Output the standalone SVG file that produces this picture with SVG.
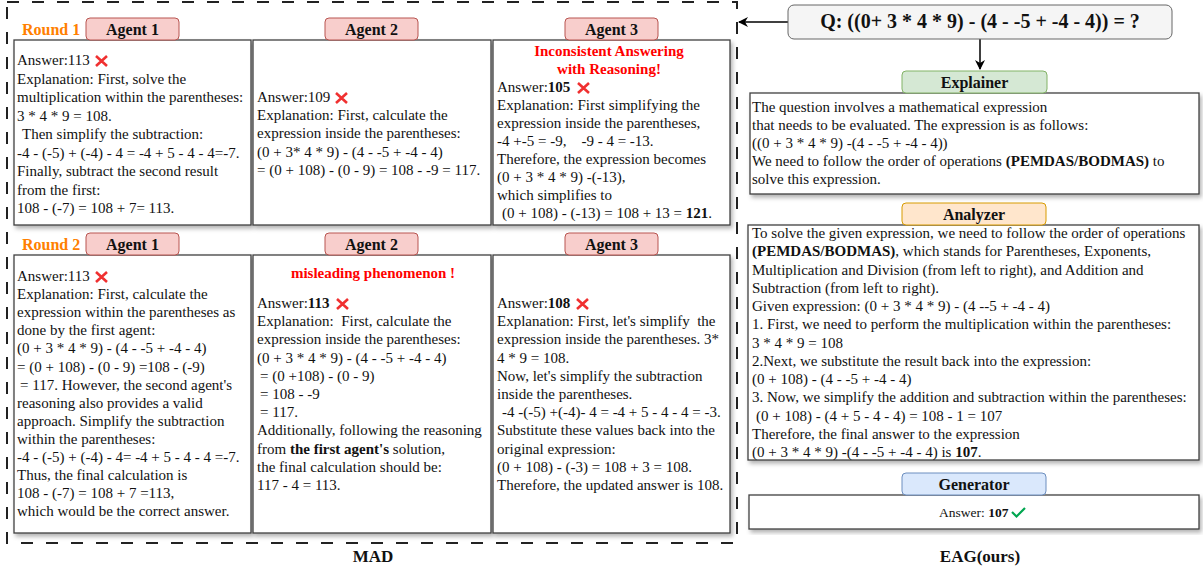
<svg xmlns="http://www.w3.org/2000/svg" width="1203" height="570" viewBox="0 0 1203 570">
<defs>
<filter id="sh" x="-5%" y="-5%" width="115%" height="120%">
<feDropShadow dx="2" dy="3" stdDeviation="2" flood-color="#000" flood-opacity="0.3"/>
</filter>
<marker id="ah" viewBox="0 0 10 10" refX="9" refY="5" markerWidth="10" markerHeight="10" markerUnits="userSpaceOnUse" orient="auto">
<path d="M0,0 L10,5 L0,10 L3,5 Z" fill="#000"/>
</marker>
<style>
text{font-family:"Liberation Serif","Times New Roman",serif;font-size:15px;fill:#111}
.b{font-weight:bold}
.box{fill:#fff;stroke:#404040;stroke-width:1.3;filter:url(#sh)}
.lbl{font-weight:bold;font-size:16px;text-anchor:middle}
.red{fill:#f00;font-weight:bold;text-anchor:middle}
.round{fill:#ff8000;font-weight:bold;font-size:16px}
.agent{fill:#f8cecc;stroke:#b85450;stroke-width:1}
.x{stroke:#f03030;stroke-width:2.6;fill:none;stroke-linecap:butt}
</style>
</defs>
<rect x="7" y="2" width="730" height="541" fill="none" stroke="#222" stroke-width="2" stroke-dasharray="12 13"/>
<text class="b" x="373" y="562" text-anchor="middle" style="font-size:17px">MAD</text>
<text class="b" x="980" y="562" text-anchor="middle" style="font-size:17px">EAG(ours)</text>

<g id="connectors">
<line x1="788" y1="22" x2="739" y2="22" stroke="#000" stroke-width="1.5" marker-end="url(#ah)"/>
<line x1="980" y1="39" x2="980" y2="69" stroke="#000" stroke-width="1.5" marker-end="url(#ah)"/>
</g>

<g id="round1-label"><text class="round" x="22" y="35">Round 1</text></g>
<g id="round2-label"><text class="round" x="22" y="250">Round 2</text></g>

<g id="r1a1">
<rect class="box" x="14" y="40" width="237" height="185"/>
<rect class="agent" x="86" y="18" width="93" height="22" rx="4"/>
<text class="lbl" x="132.5" y="35">Agent 1</text>
<text x="17" y="65">Answer:113</text>
<path class="x" d="M96,56 L107,66 M107,56 L96,66"/>
<text x="17" y="83.5">Explanation: First, solve the</text>
<text x="17" y="102">multiplication within the parentheses:</text>
<text x="17" y="120.5">3 * 4 * 9 = 108.</text>
<text x="22" y="139">Then simplify the subtraction:</text>
<text x="17" y="157.5">-4 - (-5) + (-4) - 4 = -4 + 5 - 4 - 4=-7.</text>
<text x="17" y="176">Finally, subtract the second result</text>
<text x="17" y="194.5">from the first:</text>
<text x="17" y="213">108 - (-7) = 108 + 7= 113.</text>
</g>

<g id="r1a2">
<rect class="box" x="253" y="40" width="238" height="185"/>
<rect class="agent" x="325" y="18" width="93" height="22" rx="4"/>
<text class="lbl" x="371.5" y="35">Agent 2</text>
<text x="257" y="102">Answer:109</text>
<path class="x" d="M336,93 L347,103 M347,93 L336,103"/>
<text x="257" y="120">Explanation: First, calculate the</text>
<text x="257" y="138">expression inside the parentheses:</text>
<text x="257" y="157">(0 + 3* 4 * 9) - (4 - -5 + -4 - 4)</text>
<text x="257" y="175">= (0 + 108) - (0 - 9) = 108 - -9 = 117.</text>
</g>

<g id="r1a3">
<rect class="box" x="493" y="40" width="237" height="185"/>
<rect class="agent" x="565" y="18" width="93" height="22" rx="4"/>
<text class="lbl" x="611.5" y="35">Agent 3</text>
<text class="red" x="609" y="56">Inconsistent Answering</text>
<text class="red" x="609" y="74">with Reasoning!</text>
<text x="497" y="92">Answer:<tspan class="b">105</tspan></text>
<path class="x" d="M578,83 L589,93 M589,83 L578,93"/>
<text x="497" y="110">Explanation: First simplifying the</text>
<text x="497" y="128">expression inside the parentheses,</text>
<text x="497" y="146" xml:space="preserve">-4 +-5 = -9,    -9 - 4 = -13.</text>
<text x="497" y="164">Therefore, the expression becomes</text>
<text x="497" y="182">(0 + 3 * 4 * 9) -(-13),</text>
<text x="497" y="200">which simplifies to</text>
<text x="502" y="218">(0 + 108) - (-13) = 108 + 13 = <tspan class="b">121</tspan>.</text>
</g>

<g id="r2a1">
<rect class="box" x="14" y="255" width="237" height="278"/>
<rect class="agent" x="86" y="233" width="93" height="22" rx="4"/>
<text class="lbl" x="132.5" y="250">Agent 1</text>
<text x="17" y="281">Answer:113</text>
<path class="x" d="M96,272 L107,282 M107,272 L96,282"/>
<text x="17" y="299.1">Explanation: First, calculate the</text>
<text x="17" y="317.2">expression within the parentheses as</text>
<text x="17" y="335.3">done by the first agent:</text>
<text x="17" y="353.4">(0 + 3 * 4 * 9) - (4 - -5 + -4 - 4)</text>
<text x="17" y="371.5">= (0 + 108) - (0 - 9) =108 - (-9)</text>
<text x="20" y="389.6"> = 117. However, the second agent's</text>
<text x="17" y="407.7">reasoning also provides a valid</text>
<text x="17" y="425.8">approach. Simplify the subtraction</text>
<text x="17" y="443.9">within the parentheses:</text>
<text x="17" y="462">-4 - (-5) + (-4) - 4= -4 + 5 - 4 - 4 =-7.</text>
<text x="17" y="480.1">Thus, the final calculation is</text>
<text x="17" y="498.2">108 - (-7) = 108 + 7 =113,</text>
<text x="17" y="516.3">which would be the correct answer.</text>
</g>

<g id="r2a2">
<rect class="box" x="253" y="255" width="238" height="278"/>
<rect class="agent" x="325" y="233" width="93" height="22" rx="4"/>
<text class="lbl" x="371.5" y="250">Agent 2</text>
<text class="red" x="373" y="278">misleading phenomenon !</text>
<text x="257" y="308">Answer:<tspan class="b">113</tspan></text>
<path class="x" d="M337,299 L348,309 M348,299 L337,309"/>
<text x="257" y="326.2" xml:space="preserve">Explanation:  First, calculate the</text>
<text x="257" y="344.4">expression inside the parentheses:</text>
<text x="257" y="362.6">(0 + 3 * 4 * 9) - (4 - -5 + -4 - 4)</text>
<text x="260" y="380.8">= (0 +108) - (0 - 9)</text>
<text x="260" y="399">= 108 - -9</text>
<text x="260" y="417.2">= 117.</text>
<text x="257" y="435.4">Additionally, following the reasoning</text>
<text x="257" y="453.6">from <tspan class="b">the first agent's</tspan> solution,</text>
<text x="257" y="471.8">the final calculation should be:</text>
<text x="257" y="490">117 - 4 = 113.</text>
</g>

<g id="r2a3">
<rect class="box" x="493" y="255" width="237" height="278"/>
<rect class="agent" x="565" y="233" width="93" height="22" rx="4"/>
<text class="lbl" x="611.5" y="250">Agent 3</text>
<text x="497" y="308">Answer:<tspan class="b">108</tspan></text>
<path class="x" d="M577,299 L588,309 M588,299 L577,309"/>
<text x="497" y="326.2" xml:space="preserve">Explanation: First, let's simplify  the</text>
<text x="497" y="344.4">expression inside the parentheses. 3*</text>
<text x="497" y="362.6">4 * 9 = 108.</text>
<text x="497" y="380.8">Now, let's simplify the subtraction</text>
<text x="497" y="399">inside the parentheses.</text>
<text x="502" y="417.2">-4 -(-5) +(-4)- 4 = -4 + 5 - 4 - 4 = -3.</text>
<text x="497" y="435.4">Substitute these values back into the</text>
<text x="497" y="453.6">original expression:</text>
<text x="497" y="471.8">(0 + 108) - (-3) = 108 + 3 = 108.</text>
<text x="497" y="490">Therefore, the updated answer is 108.</text>
</g>

<g id="question">
<rect x="788" y="5" width="384" height="34" rx="6" fill="#f5f5f5" stroke="#666" stroke-width="1"/>
<text class="b" x="980" y="28" text-anchor="middle" style="font-size:20px">Q: ((0+ 3 * 4 * 9) - (4 - -5 + -4 - 4)) = ?</text>
</g>

<g id="explainer">
<rect class="box" x="750" y="93" width="449" height="101"/>
<rect x="902" y="71" width="145" height="22" rx="4" fill="#d5e8d4" stroke="#82b366" stroke-width="1"/>
<text class="lbl" x="974.5" y="88">Explainer</text>
<text x="752" y="112">The question involves a mathematical expression</text>
<text x="752" y="130">that needs to be evaluated. The expression is as follows:</text>
<text x="752" y="148">((0 + 3 * 4 * 9) -(4 - -5 + -4 - 4))</text>
<text x="752" y="166">We need to follow the order of operations <tspan class="b">(PEMDAS/BODMAS)</tspan> to</text>
<text x="752" y="184">solve this expression.</text>
</g>

<g id="analyzer">
<rect class="box" x="748" y="225" width="451" height="235"/>
<rect x="902" y="203" width="144" height="22" rx="4" fill="#ffe6cc" stroke="#d79b00" stroke-width="1"/>
<text class="lbl" x="974" y="220">Analyzer</text>
<text x="752" y="238">To solve the given expression, we need to follow the order of operations</text>
<text x="752" y="256.3"><tspan class="b">(PEMDAS/BODMAS)</tspan>, which stands for Parentheses, Exponents,</text>
<text x="752" y="274.5">Multiplication and Division (from left to right), and Addition and</text>
<text x="752" y="292.8">Subtraction (from left to right).</text>
<text x="752" y="311">Given expression: (0 + 3 * 4 * 9) - (4 --5 + -4 - 4)</text>
<text x="752" y="329.3">1. First, we need to perform the multiplication within the parentheses:</text>
<text x="752" y="347.5">3 * 4 * 9 = 108</text>
<text x="752" y="365.8">2.Next, we substitute the result back into the expression:</text>
<text x="752" y="384">(0 + 108) - (4 - -5 + -4 - 4)</text>
<text x="752" y="402.3">3. Now, we simplify the addition and subtraction within the parentheses:</text>
<text x="756" y="420.5">(0 + 108) - (4 + 5 - 4 - 4) = 108 - 1 = 107</text>
<text x="752" y="438.8">Therefore, the final answer to the expression</text>
<text x="752" y="457">(0 + 3 * 4 * 9) -(4 - -5 + -4 - 4) is <tspan class="b">107</tspan>.</text>
</g>

<g id="generator">
<rect class="box" x="749" y="495" width="450" height="34"/>
<rect x="902" y="473" width="144" height="22" rx="4" fill="#dae8fc" stroke="#6c8ebf" stroke-width="1"/>
<text class="lbl" x="974" y="490">Generator</text>
<text x="939" y="517" style="font-size:13.5px">Answer: <tspan class="b">107</tspan></text>
<path d="M1012,512 L1016.5,516.5 L1025,508" fill="none" stroke="#00a650" stroke-width="2.2"/>
</g>
</svg>
